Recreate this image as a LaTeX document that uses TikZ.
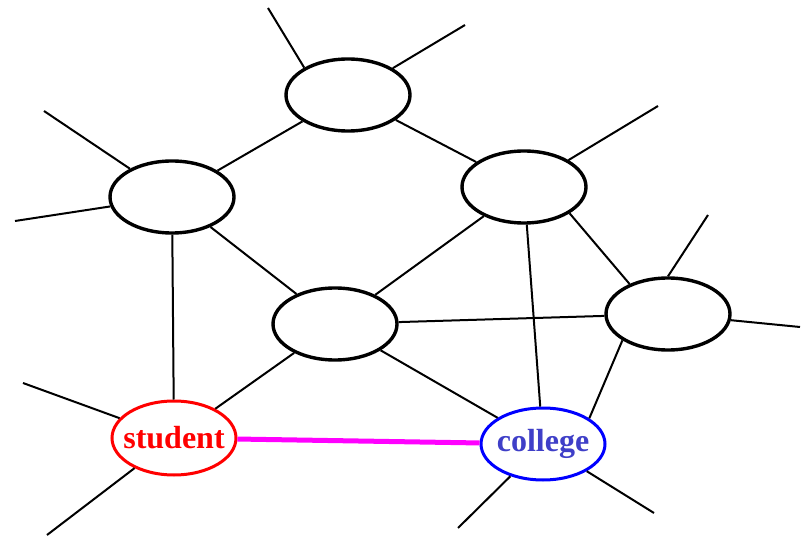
\documentclass[tikz,border=0pt]{standalone}
\usepackage{fontspec}
\setmainfont{Liberation Serif}
\usepackage{tikz}
\usetikzlibrary{shapes.geometric}
\definecolor{studred}{HTML}{FF0000}
\definecolor{collblue}{HTML}{0000FF}
\definecolor{colltext}{HTML}{3F3FC8}
\definecolor{linkpink}{HTML}{FF00FF}
\tikzset{
  blob/.style={ellipse, draw, line width=3.4pt, fill=white, minimum width=124pt, minimum height=72pt, inner xsep=-12pt, inner ysep=0pt},
  tie/.style={line width=2pt},
  word/.style={font=\fontsize{32}{36}\selectfont\bfseries, line width=3pt}
}

\begin{document}
\begin{tikzpicture}[x=1pt,y=-1pt]
\useasboundingbox (0,0) rectangle (803,537);
% free ends of the loose links
\coordinate (t1) at (268,8);
\coordinate (t2) at (465,25);
\coordinate (l1) at (44,111);
\coordinate (l2) at (15,221);
\coordinate (u1) at (658,106);
\coordinate (r1) at (708,215);
\coordinate (r2) at (800,327);
\coordinate (s1) at (23,383);
\coordinate (s2) at (47,535);
\coordinate (c1) at (458,528);
\coordinate (c2) at (654,513);
% the places
\node[blob] (top) at (348,95) {};
\node[blob] (left) at (172,197) {};
\node[blob] (up) at (524,187) {};
\node[blob] (mid) at (335,324) {};
\node[blob] (right) at (668,314) {};
\node[blob, draw=studred, minimum height=74pt, word, text=studred] (student) at (174,438) {student};
\node[blob, draw=collblue, word, text=colltext] (college) at (543,444) {college};
% links
\foreach \a/\b in {top/left,top/up,left/mid,left/student,up/mid,up/college,mid/right,mid/student,mid/college}
  \draw[tie] (\a) -- (\b);
\draw[tie] (up.330) -- (right.142);
\draw[tie] (right.210) -- (college.29);
\foreach \a/\b in {top.148/t1,top/t2,left/l1,left/l2,up/u1,right.north/r1,right/r2,student/s1,student/s2,college/c1,college/c2}
  \draw[tie] (\a) -- (\b);
\draw[line width=5pt, linkpink] (student) -- (college);
\end{tikzpicture}
\end{document}
